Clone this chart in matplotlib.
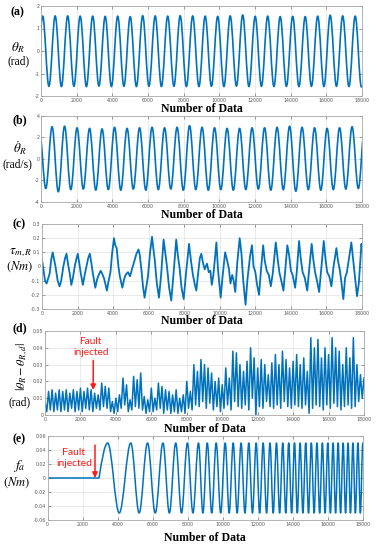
import numpy as np
import matplotlib
matplotlib.use('Agg')
import matplotlib.pyplot as plt
from matplotlib.path import Path
from matplotlib.patches import PathPatch
from matplotlib.ticker import FuncFormatter

# ---------------- data ----------------
x_ticks = [0, 2000, 4000, 6000, 8000, 10000, 12000, 14000, 16000, 18000]

# (a) theta_R : extremes of the oscillation
a_peak_x = [94, 795, 1496, 2197, 2898, 3599, 4300, 5001, 5702, 6403, 7104, 7805, 8506,
            9207, 9908, 10609, 11310, 12011, 12712, 13413, 14114, 14815, 15516, 16217, 16918, 17619]
a_peak_y = [1.55, 1.56, 1.56, 1.55, 1.55, 1.54, 1.55, 1.53, 1.57, 1.56, 1.55, 1.57, 1.56,
            1.55, 1.54, 1.56, 1.60, 1.54, 1.55, 1.53, 1.54, 1.53, 1.55, 1.59, 1.56, 1.55]
a_trough_x = [-257, 444, 1145, 1846, 2547, 3248, 3949, 4650, 5351, 6052, 6753, 7454, 8155, 8856,
              9557, 10258, 10959, 11660, 12361, 13062, 13763, 14464, 15165, 15866, 16567, 17268, 17969]
a_trough_y = [-1.57, -1.57, -1.58, -1.57, -1.58, -1.56, -1.58, -1.57, -1.58, -1.57, -1.58, -1.57, -1.58,
              -1.58, -1.57, -1.58, -1.56, -1.58, -1.57, -1.58, -1.57, -1.58, -1.57, -1.58, -1.57, -1.58, -1.60]

# (b) theta_R dot
b_peak_x = [-81, 620, 1321, 2022, 2723, 3424, 4125, 4826, 5527, 6228, 6929, 7630, 8331, 9032,
            9733, 10434, 11135, 11836, 12537, 13238, 13939, 14640, 15341, 16042, 16743, 17444, 18145]
b_peak_y = [2.5, 3.0, 3.05, 2.9, 2.85, 2.8, 2.95, 2.85, 2.9, 2.95, 2.9, 2.95, 3.1, 2.95,
            2.9, 2.85, 2.85, 2.9, 2.9, 2.95, 3.05, 2.95, 2.9, 2.85, 2.9, 3.0, 2.9]
b_trough_x = [269, 970, 1671, 2372, 3073, 3774, 4475, 5176, 5877, 6578, 7279, 7980, 8681,
              9382, 10083, 10784, 11485, 12186, 12887, 13588, 14289, 14990, 15691, 16392, 17093, 17794]
b_trough_y = [-2.75, -3.05, -2.85, -2.8, -2.9, -2.85, -2.9, -2.8, -2.9, -2.85, -2.8, -2.9, -2.85,
              -2.9, -2.85, -2.9, -2.85, -2.8, -2.9, -2.85, -3.0, -2.85, -2.9, -2.85, -2.8, -2.75]

# (c) tau_m,R
c_x = [0, 80, 170, 260, 330, 430, 520, 600, 680, 760, 880, 990, 1080, 1200, 1300, 1380, 1460, 1560,
       1650, 1740, 1840, 1930, 2010, 2090, 2170, 2300, 2400, 2500, 2600, 2690, 2770, 2850, 3000, 3100,
       3190, 3300, 3380, 3480, 3560, 3650, 3750, 3850, 3950, 4050, 4120, 4200, 4300, 4380, 4520, 4620,
       4700, 4840, 4950, 5080, 5200, 5310, 5430, 5500, 5590, 5680, 5770, 5860, 5960, 6080, 6190, 6260,
       6340, 6460, 6580, 6700, 6840, 6930, 7030, 7150, 7270, 7400, 7550, 7640, 7740, 7850, 7970, 8100,
       8270, 8380, 8490, 8600, 8680, 8780, 8880, 8960, 9050, 9150, 9280, 9380, 9470, 9550, 9640, 9810,
       9900, 10050, 10150, 10300, 10400, 10520, 10600, 10700, 10780, 10870, 10980, 11120, 11220, 11320,
       11450, 11550, 11700, 11810, 11900, 12000, 12100, 12210, 12320, 12440, 12530, 12640, 12760, 12870,
       12980, 13150, 13250, 13350, 13460, 13580, 13680, 13800, 13900, 14000, 14100, 14240, 14330, 14460,
       14560, 14660, 14780, 14920, 15020, 15170, 15260, 15360, 15450, 15590, 15700, 15850, 15940, 16040,
       16160, 16280, 16400, 16560, 16650, 16760, 16850, 16950, 17050, 17150, 17260, 17400, 17500, 17580,
       17720, 17820, 17900, 17970, 18000]
c_y = [0.045, -0.02, -0.10, -0.12, -0.09, -0.05, 0.05, 0.10, 0.05, 0.0, -0.10, -0.14, -0.10, 0.0, 0.06,
       0.09, 0.02, -0.05, -0.13, -0.08, 0.0, 0.05, 0.09, 0.03, -0.04, -0.13, -0.06, 0.0, 0.06, 0.09, 0.03,
       -0.04, -0.15, -0.09, -0.06, -0.03, -0.05, -0.08, -0.12, -0.17, -0.10, -0.04, 0.10, 0.20, 0.15, 0.13,
       0.0, -0.07, -0.15, -0.09, -0.06, -0.04, -0.07, -0.01, 0.04, 0.09, 0.12, 0.08, -0.02, -0.14, -0.22,
       -0.15, -0.07, 0.10, 0.21, 0.13, 0.05, -0.12, -0.22, -0.06, 0.19, 0.10, 0.0, -0.15, -0.24, -0.05,
       0.19, 0.08, -0.01, -0.15, -0.23, -0.05, 0.16, 0.04, -0.06, -0.13, -0.17, -0.05, 0.06, 0.09, 0.03,
       -0.02, 0.02, -0.04, -0.03, -0.13, -0.06, 0.17, -0.02, -0.22, -0.08, 0.10, 0.05, -0.02, -0.12, -0.06,
       -0.10, -0.18, 0.02, 0.20, 0.09, -0.10, -0.27, -0.10, 0.07, 0.15, 0.0, -0.04, -0.13, -0.20, -0.02,
       0.15, 0.04, -0.03, -0.06, -0.14, -0.05, 0.17, 0.06, -0.04, -0.10, -0.17, -0.03, 0.15, 0.08, -0.03,
       -0.06, -0.15, -0.04, 0.18, 0.05, -0.04, -0.08, -0.17, -0.03, 0.16, 0.05, -0.04, -0.09, -0.18, -0.03,
       0.18, 0.06, -0.04, -0.07, -0.14, 0.0, 0.13, 0.04, -0.03, -0.12, -0.23, -0.08, -0.04, 0.05, 0.17,
       0.05, -0.04, -0.21, -0.12, 0.03, 0.16, 0.12]

# (d) |theta_R - theta_R,d| sampled every 100 data points
d_step = 100
d_vals = [0.008, 0.002, 0.014, 0.003, 0.015, 0.002, 0.013, 0.003, 0.015, 0.002,
          0.014, 0.003, 0.015, 0.002, 0.013, 0.004, 0.015, 0.002, 0.014, 0.003,
          0.016, 0.002, 0.014, 0.004, 0.016, 0.003, 0.015, 0.002, 0.013, 0.004,
          0.012, 0.003, 0.019, 0.005, 0.017, 0.004, 0.016, 0.002, 0.008, 0.001,
          0.010, 0.002, 0.012, 0.004, 0.022, 0.006, 0.018, 0.002, 0.009, 0.003,
          0.023, 0.005, 0.021, 0.004, 0.025, 0.003, 0.011, 0.001, 0.009, 0.002,
          0.016, 0.002, 0.010, 0.003, 0.019, 0.004, 0.017, 0.001, 0.015, 0.003,
          0.014, 0.001, 0.012, 0.002, 0.015, 0.001, 0.010, 0.002, 0.012, 0.001,
          0.020, 0.004, 0.014, 0.003, 0.030, 0.006, 0.026, 0.005, 0.033, 0.008,
          0.030, 0.004, 0.028, 0.007, 0.025, 0.003, 0.020, 0.005, 0.022, 0.002,
          0.018, 0.004, 0.028, 0.006, 0.022, 0.003, 0.038, 0.008, 0.037, 0.005,
          0.030, 0.004, 0.026, 0.006, 0.032, 0.003, 0.040, 0.010, 0.034, 0.000,
          0.028, 0.005, 0.033, 0.004, 0.030, 0.008, 0.024, 0.005, 0.031, 0.004,
          0.036, 0.006, 0.030, 0.004, 0.038, 0.008, 0.033, 0.005, 0.028, 0.004,
          0.032, 0.006, 0.036, 0.005, 0.030, 0.004, 0.034, 0.006, 0.026, 0.001,
          0.046, 0.004, 0.040, 0.006, 0.045, 0.005, 0.034, 0.003, 0.040, 0.006,
          0.036, 0.004, 0.046, 0.007, 0.040, 0.005, 0.038, 0.003, 0.030, 0.005,
          0.040, 0.006, 0.034, 0.004, 0.046, 0.005, 0.030, 0.008, 0.024, 0.010, 0.022]

# (e) f_a : zero until fault, then chirp
e_fault_start = 2930
e_peak_x = [3425, 4745, 5700, 6580, 7310, 7975, 8610, 9110, 9620, 10135, 10590, 11040, 11480,
            11900, 12300, 12690, 13060, 13420, 13760, 14090, 14410, 14730, 15050, 15370, 15680,
            15990, 16290, 16580, 16865, 17145, 17425, 17710, 17990]
e_trough_x = [4085, 5220, 6140, 6945, 7640, 8290, 8860, 9365, 9875, 10360, 10815, 11260, 11690,
              12100, 12495, 12875, 13240, 13590, 13925, 14250, 14570, 14890, 15210, 15525, 15835,
              16140, 16435, 16720, 17005, 17285, 17565, 17850]
e_amp = 0.05
fault_x = 2720

# ---------------- drawing ----------------
BLUE = '#0072BD'
W, H = 379, 550
fig = plt.figure(figsize=(W / 100, H / 100), dpi=100)
plt.rcParams['mathtext.fontset'] = 'stix'
SERIF = 'Liberation Serif'


def px_axes(l, r, t, b):
    return fig.add_axes([l / W, 1 - b / H, (r - l) / W, (b - t) / H])


def merge_extremes(px, py, tx, ty):
    pts = sorted(list(zip(px, py)) + list(zip(tx, ty)))
    return [p[0] for p in pts], [p[1] for p in pts]


def wave_patch(ax, xs, ys, lead=None, lw=1.1):
    verts, codes = [], []
    if lead is not None:
        verts += [lead[0], lead[1]]
        codes += [Path.MOVETO, Path.LINETO]
        x0, y0 = lead[1]
        dx = xs[0] - x0
        verts += [(x0 + 0.33 * dx, y0 + 0.52 * (ys[0] - y0)), (x0 + 0.65 * dx, ys[0]), (xs[0], ys[0])]
        codes += [Path.CURVE4] * 3
    else:
        verts.append((xs[0], ys[0]))
        codes.append(Path.MOVETO)
    for i in range(len(xs) - 1):
        x0, y0, x1, y1 = xs[i], ys[i], xs[i + 1], ys[i + 1]
        dx = x1 - x0
        verts += [(x0 + 0.3634 * dx, y0), (x1 - 0.3634 * dx, y1), (x1, y1)]
        codes += [Path.CURVE4] * 3
    patch = PathPatch(Path(verts, codes), fill=False, edgecolor=BLUE, lw=lw,
                      transform=ax.transData, joinstyle='round', capstyle='round')
    ax.add_patch(patch)


def style(ax, ylim, yticks):
    ax.set_xlim(0, 18000)
    ax.set_ylim(*ylim)
    ax.set_xticks(x_ticks)
    ax.set_yticks(yticks)
    fmt = FuncFormatter(lambda v, p: ('%g' % round(v, 4)))
    ax.xaxis.set_major_formatter(fmt)
    ax.yaxis.set_major_formatter(fmt)
    ax.tick_params(direction='in', length=2, width=0.4, labelsize=3.4, colors='#555555',
                   top=True, right=True, pad=1.2)
    ax.grid(True, color='#e2e2e2', lw=0.5)
    ax.set_axisbelow(True)
    for s in ax.spines.values():
        s.set_color('#a8a8a8')
        s.set_linewidth(0.6)


def ftext(x, y, s, **kw):
    kw.setdefault('ha', 'center')
    kw.setdefault('va', 'center')
    fig.text(x / W, 1 - y / H, s, **kw)


# (a)
axa = px_axes(41, 362, 6, 96)
xa, ya = merge_extremes(a_peak_x, a_peak_y, a_trough_x, a_trough_y)
wave_patch(axa, xa, ya, lw=1.2)
style(axa, (-2, 2), [-2, -1, 0, 1, 2])

# (b)
axb = px_axes(41, 362, 116, 202)
xb, yb = merge_extremes(b_peak_x, b_peak_y, b_trough_x, b_trough_y)
wave_patch(axb, xb, yb, lw=1.2)
style(axb, (-4, 4), [-4, -2, 0, 2, 4])

# (c)
axc = px_axes(42, 362, 224, 309)
axc.plot(c_x, c_y, color=BLUE, lw=1.3)
style(axc, (-0.3, 0.3), [-0.3, -0.2, -0.1, 0, 0.1, 0.2, 0.3])

# (d)
axd = px_axes(45, 364, 331, 415)
d_x = np.arange(len(d_vals)) * d_step
axd.plot(d_x, d_vals, color=BLUE, lw=1.1)
style(axd, (0, 0.05), [0, 0.01, 0.02, 0.03, 0.04, 0.05])
axd.annotate('', xy=(fault_x, 0.0148), xytext=(fault_x, 0.0325),
             arrowprops=dict(arrowstyle='-|>,head_width=0.22,head_length=0.45',
                             color='#ff1a1a', lw=1.1, mutation_scale=7, shrinkA=0, shrinkB=0))
axd.text(2560, 0.0436, 'Fault', color='#ff1a1a', fontsize=7.3, family='Lato', ha='center', va='center')
axd.text(2600, 0.0373, 'injected', color='#ff1a1a', fontsize=7.3, family='Lato', ha='center', va='center')

# (e)
axe = px_axes(47.7, 363, 436, 520)
xe, ye = merge_extremes(e_peak_x, [e_amp] * len(e_peak_x), e_trough_x, [-e_amp] * len(e_trough_x))
wave_patch(axe, xe, ye, lead=[(0, 0), (e_fault_start, 0)], lw=1.1)
style(axe, (-0.06, 0.06), [-0.06, -0.04, -0.02, 0, 0.02, 0.04, 0.06])
axe.annotate('', xy=(2700, 0.0), xytext=(2700, 0.047),
             arrowprops=dict(arrowstyle='-|>,head_width=0.22,head_length=0.45',
                             color='#ff1a1a', lw=1.1, mutation_scale=7, shrinkA=0, shrinkB=0))
axe.text(1460, 0.0364, 'Fault', color='#ff1a1a', fontsize=7.5, family='Lato', ha='center', va='center')
axe.text(1500, 0.021, 'injected', color='#ff1a1a', fontsize=7.5, family='Lato', ha='center', va='center')

# x labels
for cx, cy in [((41 + 362) / 2, 108.5), ((41 + 362) / 2, 214.5), ((42 + 362) / 2, 321.5),
               ((45 + 364) / 2, 429), ((47.7 + 363) / 2, 538)]:
    ftext(cx, cy, 'Number of Data', family=SERIF, fontweight='bold', fontsize=8.5)

# panel letters
for s, (x, y) in zip(['(a)', '(b)', '(c)', '(d)', '(e)'],
                     [(17, 12), (20, 120), (19, 224), (20, 328), (19, 439)]):
    ftext(x, y, s, family=SERIF, fontweight='bold', fontsize=8.5)

# y labels
ftext(18, 48, r'$\theta_R$', fontsize=9.5)
ftext(19, 61, '(rad)', family=SERIF, fontsize=8.3)
ftext(20, 148, r'$\dot{\theta}_R$', fontsize=9.5)
ftext(17, 164, '(rad/s)', family=SERIF, fontsize=8.3)
ftext(21, 252, r'$\tau_{m,R}$', fontsize=9.5)
ftext(20, 267, r'$(Nm)$', fontsize=9.0)
ftext(22, 367, r'$|\theta_R-\theta_{R,d}|$', fontsize=8.8, rotation=90)
ftext(20, 402, '(rad)', family=SERIF, fontsize=8.3)
ftext(19, 466, r'$f_a$', fontsize=10)
ftext(17, 483, r'$(Nm)$', fontsize=9.0)

fig.savefig('out.png', dpi=100)
